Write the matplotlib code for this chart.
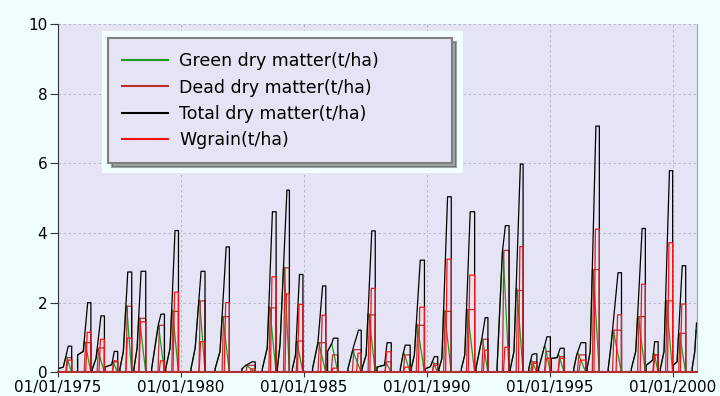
import numpy as np
import matplotlib.pyplot as plt
from matplotlib.patches import Rectangle

# one entry per growing season (decimal years, t/ha)
sow = [1975.00, 1975.81, 1976.41, 1976.92, 1977.53, 1978.10, 1978.82, 1979.39,
       1980.42, 1981.40, 1982.49, 1983.32, 1983.93, 1984.54, 1985.36, 1985.97,
       1986.80, 1987.37, 1987.98, 1988.93, 1989.37, 1989.94, 1990.50, 1991.41,
       1992.00, 1992.86, 1993.40, 1994.15, 1994.55, 1995.07, 1995.98, 1996.52,
       1997.38, 1998.32, 1998.92, 1999.50, 2000.02, 2000.79]
start_v = [0.10, 0.50, 0.10, 0.15, 0.10, 0.10, 0.10, 0.10, 0.10, 0.10, 0.10, 0.10,
           0.10, 0.10, 0.10, 0.60, 0.10, 0.10, 0.15, 0.10, 0.10, 0.10, 0.10, 0.10,
           0.10, 0.10, 0.10, 0.10, 0.10, 0.40, 0.10, 0.10, 0.10, 0.10, 0.20, 0.10,
           0.20, 0.10]
bend_t = [1975.23, 1976.04, 1976.56, 1977.20, 1977.67, 1978.23, 1979.09, 1979.57,
          1980.59, 1981.60, 1982.65, 1983.52, 1984.04, 1984.67, 1985.58, 1986.15,
          1987.03, 1987.54, 1988.29, 1989.05, 1989.50, 1990.15, 1990.62, 1991.55,
          1992.24, 1993.08, 1993.55, 1994.28, 1994.80, 1995.30, 1996.10, 1996.65,
          1997.50, 1998.50, 1999.19, 1999.65, 2000.18, 2000.90]
bend_v = [0.15, 0.60, 0.40, 0.22, 0.60, 0.70, 1.36, 0.70, 0.70, 0.60, 0.20, 0.70,
          0.80, 0.50, 0.85, 0.84, 0.74, 0.50, 0.21, 0.55, 0.50, 0.16, 0.40, 0.50,
          0.95, 3.46, 0.60, 0.50, 0.78, 0.42, 0.50, 0.60, 0.80, 0.60, 0.35, 0.60,
          0.30, 0.60]
top_t = [1975.43, 1976.22, 1976.76, 1977.30, 1977.85, 1978.39, 1979.20, 1979.77,
         1980.83, 1981.85, 1982.90, 1983.73, 1984.32, 1984.83, 1985.77, 1986.21,
         1987.23, 1987.77, 1988.39, 1989.13, 1989.74, 1990.31, 1990.85, 1991.77,
         1992.38, 1993.20, 1993.81, 1994.36, 1994.89, 1995.43, 1996.27, 1996.88,
         1997.78, 1998.76, 1999.27, 1999.87, 2000.39, 2000.97]
harvest = [1975.57, 1976.35, 1976.90, 1977.44, 1978.01, 1978.58, 1979.34, 1979.91,
           1980.99, 1981.98, 1983.03, 1983.88, 1984.42, 1984.97, 1985.90, 1986.39,
           1987.34, 1987.91, 1988.56, 1989.33, 1989.91, 1990.45, 1991.00, 1991.95,
           1992.49, 1993.35, 1993.92, 1994.48, 1995.03, 1995.59, 1996.47, 1997.02,
           1997.92, 1998.89, 1999.41, 2000.00, 2000.53, 2001.30]
total_pk = [0.75, 2.00, 1.62, 0.60, 2.88, 2.90, 1.67, 4.07, 2.90, 3.60, 0.30, 4.61,
            5.23, 2.81, 2.48, 0.98, 1.21, 4.06, 0.85, 0.78, 3.22, 0.45, 5.04, 4.61,
            1.57, 4.21, 5.98, 0.53, 1.02, 0.69, 0.85, 7.07, 2.86, 4.13, 0.88, 5.79,
            3.06, 1.42]
green_pk = [0.45, 0.88, 0.65, 0.30, 1.90, 1.56, 1.30, 1.79, 2.07, 1.60, 0.20, 1.88,
            3.03, 0.88, 0.85, 0.80, 0.60, 1.69, 0.30, 0.55, 1.39, 0.30, 1.79, 1.81,
            0.95, 3.45, 2.41, 0.35, 0.75, 0.50, 0.55, 2.95, 1.21, 1.60, 0.55, 2.07,
            1.12, 1.20]
dead_pk = [0.42, 0.85, 0.70, 0.30, 1.90, 1.55, 1.35, 1.75, 2.05, 1.60, 0.20, 1.85,
           3.00, 0.90, 0.85, 0.50, 0.65, 1.65, 0.30, 0.50, 1.35, 0.25, 1.75, 1.80,
           0.95, 3.50, 2.35, 0.30, 0.60, 0.45, 0.50, 2.95, 1.21, 1.60, 0.50, 2.05,
           1.12, 0.00]
grain_pk = [0.35, 1.15, 0.95, 0.33, 0.98, 1.45, 0.33, 2.30, 0.88, 2.00, 0.10, 2.74,
            2.25, 1.95, 1.64, 0.12, 0.55, 2.41, 0.59, 0.15, 1.87, 0.20, 3.25, 2.79,
            0.64, 0.72, 3.61, 0.26, 0.40, 0.40, 0.35, 4.11, 1.65, 2.53, 0.50, 3.72,
            1.96, 0.00]

year_ticks = [1975, 1980, 1985, 1990, 1995, 2000]
year_labels = ['01/01/%d' % y for y in year_ticks]
labels = ['Green dry matter(t/ha)', 'Dead dry matter(t/ha)',
          'Total dry matter(t/ha)', 'Wgrain(t/ha)']
colors = ['#1f9a1f', '#b83030', '#000000', '#ff1010']


def season_lines():
    tx, ty, gx, gy, dx, dy, wx, wy = [], [], [], [], [], [], [], []
    for i in range(len(sow)):
        s, h = sow[i], harvest[i]
        rise_t = [s, bend_t[i], top_t[i]]
        rise_v = [start_v[i], bend_v[i], total_pk[i]]
        tx += [s, s, bend_t[i], top_t[i], h, h]
        ty += [0, start_v[i], bend_v[i], total_pk[i], total_pk[i], 0]

        g = green_pk[i]
        tg = float(np.interp(g, rise_v, rise_t))
        gx += [s, s]
        gy += [0, min(start_v[i], g)]
        if bend_v[i] < g:
            gx.append(bend_t[i])
            gy.append(bend_v[i])
        gx += [tg, tg + 0.03, h]
        gy += [g, g, 0]

        dx += [tg, tg + 0.06, h, h]
        dy += [0, dead_pk[i], dead_pk[i], 0]

        wx += [top_t[i] - 0.08, top_t[i] - 0.02, h, h]
        wy += [0, grain_pk[i], grain_pk[i], 0]
    return (tx, ty), (gx, gy), (dx, dy), (wx, wy)


total, green, dead, grain = season_lines()

fig = plt.figure(figsize=(7.2, 3.96), dpi=100, facecolor='#effdfe')
ax = fig.add_axes([0.0801, 0.0598, 0.8883, 0.8796])
ax.set_facecolor('#e4e4f5')

for (x, y), c, lab in zip([green, dead, total, grain], colors, labels):
    ax.plot(x, y, color=c, lw=0.9, label=lab)

ax.set_xlim(1975.0, 2001.0)
ax.set_ylim(0, 10)
ax.set_xticks(year_ticks)
ax.set_xticklabels(year_labels)
ax.set_yticks([0, 2, 4, 6, 8, 10])
ax.tick_params(axis='y', length=5.5, width=0.8, color='#333333', pad=2, labelsize=11)
ax.tick_params(axis='x', length=3.5, width=0.8, color='#333333', pad=2, labelsize=11)

ax.set_axisbelow(True)
ax.grid(True, color='#b0b0c8', lw=0.6, ls=(0, (3, 3)))
ax.spines['top'].set_visible(False)
ax.spines['right'].set_color('#a0a0b0')
ax.spines['right'].set_linewidth(0.8)
ax.spines['left'].set_color('#333333')
ax.spines['bottom'].set_color('#b03030')
ax.spines['bottom'].set_linewidth(1.5)

# pale box behind the legend
fig.add_artist(Rectangle((0.1413, 0.5631), 0.5018, 0.3586, transform=fig.transFigure,
                         facecolor='#f2feff', edgecolor='none', zorder=3))

handles, _ = ax.get_legend_handles_labels()
leg = fig.legend(handles, labels, loc='upper left', mode='expand',
                 bbox_to_anchor=(0.1504, 0.5833, 0.4767, 0.32), borderaxespad=0,
                 fontsize=12.5, handlelength=2.65, handletextpad=0.65,
                 borderpad=0.8, labelspacing=0.48, fancybox=False, framealpha=1,
                 facecolor='#e4e4f5', edgecolor='#808080',
                 shadow={'ox': 3, 'oy': -3, 'shade': 0.75, 'alpha': 0.45})
leg.get_frame().set_linewidth(1.5)
leg.set_zorder(5)
for line in leg.get_lines():
    line.set_linewidth(1.5)

fig.savefig('out.png', dpi=100, facecolor=fig.get_facecolor())
